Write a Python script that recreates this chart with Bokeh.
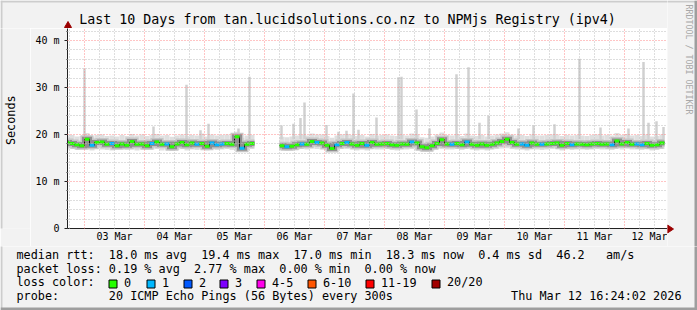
import numpy as np
from bokeh.plotting import figure
from bokeh.layouts import column, row
from bokeh.models import FixedTicker, ColumnDataSource, Range1d
from bokeh.core.properties import value
from bokeh.embed import file_html
from bokeh.resources import INLINE

nan = float("nan")

# ---------------- data ----------------
STEP_START = 16.0      # hours since 2026-03-02 00:00 of first step
STEP_HOURS = 2.0

median = [
    18.3, 18.1, 17.8, 17.6,
    19.0, 17.7, 18.3, 18.4, 17.9, 18.1, 17.6, 18.0, 17.7, 18.5, 17.9, 18.0,
    17.6, 18.1, 18.4, 17.9, 18.0, 17.4, 18.0, 18.3, 17.8, 18.2, 17.9, 18.1,
    17.5, 18.2, 17.8, 18.0, 18.1, 17.9, 19.5, 17.1, 17.9, 18.1, nan, nan,
    nan, nan, nan, 17.6, 17.4, 17.5, 17.8, 18.0, 17.9, 18.5, 18.3, 18.2,
    17.7, 17.0, 17.8, 18.1, 18.3, 18.0, 17.7, 18.1, 17.7, 18.3, 17.9, 18.0,
    18.1, 17.8, 17.7, 18.0, 17.9, 18.4, 18.2, 17.4, 17.2, 17.6, 18.1, 18.9,
    18.0, 17.9, 18.1, 17.8, 18.4, 17.9, 17.7, 18.0, 17.7, 17.9, 18.2, 18.5,
    19.0, 18.3, 17.9, 18.0, 17.7, 18.2, 17.9, 17.9, 18.0, 18.1, 18.2, 17.7,
    18.1, 17.8, 18.0, 17.9, 17.8, 18.0, 18.1, 17.9, 18.0, 17.8, 18.6, 18.0,
    18.3, 17.9, 18.0, 17.8, 18.1, 17.7, 17.8, 18.2,
]
loss = [
    0, 0, 0, 0,
    0, 1, 0, 0, 0, 1, 0, 0, 0, 0, 0, 0,
    0, 1, 0, 0, 1, 0, 0, 0, 0, 0, 1, 0,
    0, 1, 1, 1, 0, 0, 0, 1, 0, 0, 0, 0,
    0, 0, 0, 0, 1, 0, 0, 1, 0, 0, 1, 0,
    0, 0, 1, 0, 1, 0, 0, 0, 1, 0, 0, 0,
    0, 0, 0, 0, 0, 1, 0, 0, 0, 0, 0, 0,
    0, 1, 0, 0, 1, 0, 0, 0, 0, 0, 0, 0,
    0, 0, 0, 1, 1, 0, 0, 1, 0, 0, 0, 0,
    0, 1, 0, 0, 0, 0, 0, 0, 0, 1, 0, 0,
    0, 0, 1, 1, 0, 0, 0, 0,
]
smoke_lo = [
    16.8, 16.9, 16.7, 16.8,
    17.0, 16.6, 16.9, 16.8, 16.7, 16.6, 16.8, 16.9, 16.7, 16.8, 16.6, 16.8,
    16.7, 16.8, 16.9, 16.6, 16.8, 16.5, 16.7, 16.9, 16.6, 16.8, 16.7, 16.8,
    16.6, 16.9, 16.7, 16.8, 16.9, 16.7, 16.8, 16.3, 16.7, 16.9, nan, nan,
    nan, nan, nan, 16.7, 16.5, 16.6, 16.7, 16.9, 16.8, 17.0, 16.9, 16.8,
    16.7, 16.3, 16.8, 16.9, 16.9, 16.8, 16.6, 16.8, 16.6, 16.9, 16.8, 16.8,
    16.9, 16.7, 16.6, 16.8, 16.8, 16.9, 16.8, 16.4, 16.3, 16.6, 16.9, 16.9,
    16.8, 16.8, 16.9, 16.7, 17.0, 16.8, 16.6, 16.8, 16.6, 16.8, 16.9, 17.0,
    17.1, 16.9, 16.8, 16.8, 16.6, 16.9, 16.8, 16.7, 16.8, 16.9, 16.9, 16.6,
    16.9, 16.7, 16.8, 16.8, 16.7, 16.8, 16.9, 16.8, 16.8, 16.7, 17.0, 16.8,
    17.0, 16.8, 16.8, 16.7, 16.9, 16.6, 16.7, 16.9,
]
smoke_hi = [
    19.8, 19.9, 19.6, 19.7,
    20.3, 19.6, 19.9, 20.0, 19.7, 19.8, 19.6, 19.9, 19.7, 20.1, 19.8, 20.0,
    19.7, 19.9, 20.1, 19.8, 19.9, 19.5, 19.8, 20.0, 19.7, 19.9, 19.8, 20.2,
    19.6, 20.0, 19.8, 19.9, 20.0, 19.8, 20.6, 19.3, 19.8, 19.9, nan, nan,
    nan, nan, nan, 19.5, 19.4, 19.6, 19.8, 19.9, 19.8, 20.2, 20.0, 20.0,
    19.7, 19.3, 19.8, 20.0, 20.1, 19.9, 19.7, 19.9, 19.6, 20.1, 19.8, 19.9,
    20.0, 19.8, 19.7, 19.9, 19.8, 20.2, 20.0, 19.4, 19.3, 19.6, 20.0, 20.4,
    19.9, 19.8, 20.0, 19.7, 20.2, 19.8, 19.7, 19.9, 19.6, 19.8, 20.0, 20.2,
    20.5, 20.0, 19.8, 19.9, 19.7, 20.0, 19.8, 19.8, 19.9, 20.0, 20.0, 19.7,
    19.9, 19.8, 19.9, 19.8, 19.7, 19.9, 20.0, 19.8, 19.9, 19.8, 20.3, 19.9,
    20.1, 19.8, 19.9, 19.7, 20.0, 19.6, 19.7, 20.0,
]
spike_hour = [24.0, 51.6, 64.8, 70.4, 73.6, 85.6, 90.0, 102.8, 107.6, 110.4,
              112.0, 120.8, 125.6, 128.8, 131.6, 133.6, 140.8, 149.6, 150.8,
              156.8, 162.0, 172.8, 177.6, 182.0, 185.6, 197.6, 203.6, 212.0,
              222.0, 230.4, 241.6, 247.6, 249.6, 252.8, 255.6]
spike_top = [34.0, 21.7, 30.6, 20.9, 22.3, 21.3, 32.3, 21.9, 22.3, 23.5,
             26.8, 22.0, 20.6, 20.8, 28.7, 21.0, 23.6, 32.2, 32.3,
             25.3, 21.3, 32.8, 34.3, 22.5, 24.0, 21.3, 21.9, 22.2,
             36.1, 21.5, 21.3, 35.4, 22.5, 22.8, 21.6]

day_ticks = [36, 60, 84, 108, 132, 156, 180, 204, 228, 252]
day_labels = ["03 Mar", "04 Mar", "05 Mar", "06 Mar", "07 Mar",
              "08 Mar", "09 Mar", "10 Mar", "11 Mar", "12 Mar"]
midnights = [24, 48, 72, 96, 120, 144, 168, 192, 216, 240]
six_hours = [18, 30, 36, 42, 54, 60, 66, 78, 84, 90, 102, 108, 114, 126, 132,
             138, 150, 156, 162, 174, 180, 186, 198, 204, 210, 222, 228, 234,
             246, 252]
y_ticks = [0, 10, 20, 30, 40]
y_labels = ["0", "10 m", "20 m", "30 m", "40 m"]
y_minor = [2, 4, 6, 8, 12, 14, 16, 18, 22, 24, 26, 28, 32, 34, 36, 38, 42]

loss_names = ["0", "1", "2", "3", "4-5", "6-10", "11-19", "20/20"]
loss_colors = ["#26ff00", "#00b8ff", "#0059ff", "#7e00ff",
               "#ff00ea", "#ff5500", "#ff0000", "#a10000"]

title_text = "Last 10 Days from tan.lucidsolutions.co.nz to NPMjs Registry (ipv4)"
rtt_line = "median rtt:  18.0 ms avg  19.4 ms max  17.0 ms min  18.3 ms now  0.4 ms sd  46.2   am/s"
loss_line = "packet loss: 0.19 % avg  2.77 % max  0.00 % min  0.00 % now"
color_head = "loss color:"
probe_line = "probe:       20 ICMP Echo Pings (56 Bytes) every 300s"
date_text = "Thu Mar 12 16:24:02 2026"
side_text = "RRDTOOL / TOBI OETIKER"
axis_title = "Seconds"

# ---------------- layout constants ----------------
W, H = 697, 310
FL, FR, FT, FB = 67, 667, 28, 228      # plot frame in page pixels
LEFT_W = 30                             # width of left strip
SEAM = 246                              # y where the legend strip begins
X0, X1 = 17.2, 257.2
Y0, Y1 = 0.0, 200 / 4.7
MONO = "DejaVu Sans Mono"
LEG = "11.8px"
BG = "#f2f2f2"
SHADE_A = "#cdcdcd"
SHADE_B = "#9e9e9e"
ARROW = "#9b0000"
AXIS = "#222222"


def strip(x0, x1, y0, y1):
    """A figure whose data space equals page pixels (y downwards)."""
    f = figure(width=x1 - x0, height=y1 - y0,
               x_range=Range1d(x0, x1), y_range=Range1d(y1, y0),
               output_backend="svg", toolbar_location=None,
               x_axis_type=None, y_axis_type=None,
               min_border_left=0, min_border_right=0,
               min_border_top=0, min_border_bottom=0,
               background_fill_color=BG, border_fill_color=BG,
               outline_line_color=None)
    f.grid.visible = False
    f.quad(left=[0, 0], right=[W, 2], top=[0, 0], bottom=[2, H],
           fill_color=SHADE_A, line_color=None)
    f.quad(left=[W - 3, 0], right=[W, W], top=[0, H - 3], bottom=[H, H],
           fill_color=SHADE_B, line_color=None)
    return f


def txt(f, x, y, s, size=LEG, align="left", angle=0.0, color="#000000"):
    # non-breaking spaces keep the fixed-width column layout in SVG text
    f.text(x=[x], y=[y], text=[s.replace(" ", "\u00a0")], text_font=value(MONO),
           text_font_size=size, text_align=align, text_baseline="middle",
           angle=angle, text_color=color)


# ---------------- main plot ----------------
p = figure(width=FR - LEFT_W, height=SEAM - FT,
           x_range=Range1d(X0, X1), y_range=Range1d(Y0, Y1),
           output_backend="svg", toolbar_location=None,
           min_border_left=FL - LEFT_W, min_border_right=0,
           min_border_top=0, min_border_bottom=SEAM - FB,
           background_fill_color="white", border_fill_color=BG,
           outline_line_color=None)

p.xaxis.ticker = FixedTicker(ticks=day_ticks)
p.xaxis.major_label_overrides = {t: s for t, s in zip(day_ticks, day_labels)}
p.xaxis.major_tick_line_color = None
p.xaxis.minor_tick_line_color = None
p.xaxis.major_tick_out = 0
p.xaxis.major_tick_in = 0
p.xaxis.minor_tick_out = 0
p.xaxis.minor_tick_in = 0
p.xaxis.major_label_standoff = 2
p.yaxis.ticker = FixedTicker(ticks=y_ticks, minor_ticks=y_minor)
p.yaxis.major_label_overrides = {t: s for t, s in zip(y_ticks, y_labels)}
p.yaxis.major_tick_out = 3
p.yaxis.major_tick_in = 0
p.yaxis.minor_tick_out = 1
p.yaxis.minor_tick_in = 0
p.yaxis.major_tick_line_color = AXIS
p.yaxis.minor_tick_line_color = AXIS
p.yaxis.major_label_standoff = 5
for ax in (p.xaxis[0], p.yaxis[0]):
    ax.axis_line_color = AXIS
    ax.major_label_text_font = MONO
    ax.major_label_text_font_size = "10px"
    ax.major_label_text_color = "#000000"

p.xgrid.ticker = FixedTicker(ticks=midnights, minor_ticks=six_hours)
p.ygrid.ticker = FixedTicker(ticks=[10, 20, 30, 40], minor_ticks=y_minor)
for g in (p.xgrid[0], p.ygrid[0]):
    g.grid_line_color = "#ff8080"
    g.grid_line_alpha = 0.9
    g.grid_line_dash = "1 2"
    g.minor_grid_line_color = "#bdbdbd"
    g.minor_grid_line_dash = "1 2"
    g.level = "guide"

n = len(median)
t = STEP_START + STEP_HOURS * np.arange(n)
med = np.array(median, dtype=float)
color_index = [0, 1, 2, 3, 4, 4, 5, 5, 5, 5, 5, 6, 6, 6, 6, 6, 6, 6, 6, 6, 7]
src = ColumnDataSource(dict(
    left=t, right=t + STEP_HOURS, lo=smoke_lo, hi=smoke_hi, med=med,
    color=[loss_colors[color_index[int(l)]] for l in loss],
))
p.quad(left="left", right="right", bottom="lo", top="hi", source=src,
       fill_color="#dfdfdf", line_color=None)
p.vbar(x=spike_hour, width=1.0, bottom=19.0, top=spike_top,
       fill_color="#d0d0d0", line_color=None)

path_x = np.column_stack([t, t + STEP_HOURS]).ravel()
path_y = np.repeat(med, 2)
p.line(path_x, path_y, line_width=8, line_color="#c6c6c6", line_join="miter")
p.line(path_x, path_y, line_width=5, line_color="#8f8f8f", line_join="miter")
p.line(path_x, path_y, line_width=1, line_color="#111111")
p.segment(x0="left", x1="right", y0="med", y1="med", source=src,
          line_color="color", line_width=3, line_cap="butt")

# ---------------- surrounding strips ----------------
top = strip(0, FR, 0, FT)
txt(top, 347, 19.3, title_text, size="13.3px", align="center")
top.segment(x0=[FL + 0.5], x1=[FL + 0.5], y0=[25], y1=[FT], line_color=AXIS, line_width=1)
top.patch(x=[FL - 3, FL + 4, FL + 0.5], y=[27, 27, 21], fill_color=ARROW, line_color=ARROW)

left = strip(0, LEFT_W, FT, SEAM)
txt(left, 10, 128, axis_title, angle=np.pi / 2, align="center")

right = strip(FR, W, 0, SEAM)
right.patch(x=[FR, FR, FR + 6], y=[224.5, 232.5, 228.5], fill_color=ARROW, line_color=ARROW)
txt(right, 688, 59, side_text, size="8.3px", align="center",
    angle=-np.pi / 2, color="#a8a8a8")

bottom = strip(0, W, SEAM, H)
txt(bottom, 16, 254.5, rtt_line)
txt(bottom, 16, 268, loss_line)
txt(bottom, 16, 281.5, color_head)
sw_x = [108, 146, 183, 219, 256, 307, 365, 431]
bottom.quad(left=[x + 0.5 for x in sw_x], right=[x + 8.5 for x in sw_x],
            top=[279.5] * len(sw_x), bottom=[287.5] * len(sw_x),
            fill_color=loss_colors, line_color="#000000", line_width=1)
for px, s in zip(sw_x, loss_names):
    txt(bottom, px + 15.5, 281.5, s)
txt(bottom, 16, 295, probe_line)
txt(bottom, 681, 295, date_text, align="right")

page = column(row(column(top, row(left, p)), right), bottom)
open("out.html", "w").write(file_html(page, INLINE))
